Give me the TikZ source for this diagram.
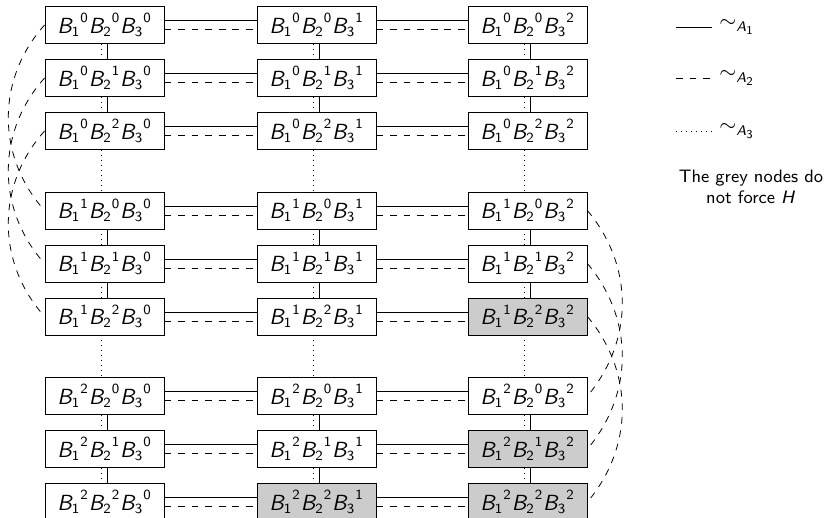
\documentclass[tikz,border=0pt]{standalone}
\usepackage{tikz}
\DeclareMathAlphabet{\mathsfit}{OT1}{cmss}{m}{sl}
\DeclareMathSizes{10.5}{10.5}{7.5}{6}
\newcommand{\Bx}[3]{${\mathsfit{B}_{\mathsf{1}}}^{\mathsf{#1}}{\mathsfit{B}_{\mathsf{2}}}^{\mathsf{#2}}{\mathsfit{B}_{\mathsf{3}}}^{\mathsf{#3}}$}
\tikzset{
  box/.style={draw, minimum width=59.5pt, minimum height=18.5pt, inner sep=0pt, font=\fontsize{10.5}{12.6}\selectfont},
  st62/.style={fill=black!20},
  st82/.style={fill=black!20},
  st91/.style={fill=black!20},
  st92/.style={fill=black!20},
  mydash/.style={dash pattern=on 3.4pt off 3.4pt},
  mydot/.style={dash pattern=on 0.4pt off 2.1pt},
  legtext/.style={anchor=west, inner sep=3.5pt, font=\fontsize{10.5}{12.6}\selectfont},
}
\begin{document}
\begin{tikzpicture}[x=0.5pt, y=-0.5pt]
\useasboundingbox (0,0) rectangle (824,518);
% nodes
\foreach \r/\y/\i/\j in {1/25/0/0, 2/78/0/1, 3/131/0/2, 4/210.5/1/0, 5/263.5/1/1, 6/316.5/1/2, 7/396/2/0, 8/449/2/1, 9/502/2/2} {
  \foreach \c/\x in {0/104.5, 1/316.5, 2/527.5} {
    \node[box, st\r\c/.try] (n\r\c) at (\x,\y) {\Bx{\i}{\j}{\c}};
  }
}
% horizontal edges
\foreach \r in {1,...,9} {
  \foreach \a/\b in {0/1, 1/2} {
    \draw ([yshift=2.25pt]n\r\a.east) -- ([yshift=2.25pt]n\r\b.west);
    \draw[mydash] ([yshift=-2.25pt]n\r\a.east) -- ([yshift=-2.25pt]n\r\b.west);
  }
}
% vertical edges
\foreach \c in {0,1,2} {
  \foreach \a/\b in {1/2, 2/3, 4/5, 5/6, 7/8, 8/9} {
    \draw ([xshift=1.5pt]n\a\c.south) -- ([xshift=1.5pt]n\b\c.north);
  }
  \foreach \a/\b in {1/2, 2/3, 3/4, 4/5, 5/6, 6/7, 7/8, 8/9} {
    \draw[mydot] ([xshift=-1.5pt]n\a\c.south) -- ([xshift=-1.5pt]n\b\c.north);
  }
}
% curved dashed edges
\draw[mydash] (n10.west) to[bend right=42] (n40.west);
\draw[mydash] (n20.west) to[bend right=42] (n50.west);
\draw[mydash] (n30.west) to[bend right=42] (n60.west);
\draw[mydash] (n42.east) to[bend left=40] (n72.east);
\draw[mydash] (n52.east) to[bend left=40] (n82.east);
\draw[mydash] (n62.east) to[bend left=40] (n92.east);
% legend
\coordinate (l1a) at (676,27);  \coordinate (l1b) at (712,27);
\coordinate (l2a) at (676,78);  \coordinate (l2b) at (712,78);
\coordinate (l3a) at (676,131); \coordinate (l3b) at (712,131);
\draw (l1a) -- (l1b);
\draw[mydash] (l2a) -- (l2b);
\draw[mydot] (l3a) -- (l3b);
\node[legtext] (l1t) at (l1b) {$\sim_{\mathsfit{A}_{\mathsf{1}}}$};
\node[legtext] (l2t) at (l2b) {$\sim_{\mathsfit{A}_{\mathsf{2}}}$};
\node[legtext] (l3t) at (l3b) {$\sim_{\mathsfit{A}_{\mathsf{3}}}$};
\node[align=center, inner sep=0pt, font=\fontsize{9}{10.8}\sffamily] (note) at (751,187) {The grey nodes do\\not force $\mathsfit{H}$};
\end{tikzpicture}
\end{document}
